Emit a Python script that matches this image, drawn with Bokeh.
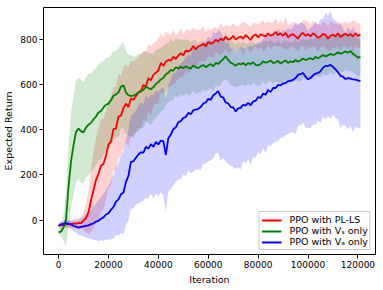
from bokeh.plotting import figure
from bokeh.models import Range1d, Legend, LegendItem
from bokeh.embed import file_html
from bokeh.resources import INLINE

# ---------------- data ----------------
iterations = [i * 1000 for i in range(122)]

x_tick_values = [0, 20000, 40000, 60000, 80000, 100000, 120000]
x_tick_labels = ["0", "20000", "40000", "60000", "80000", "100000", "120000"]
y_tick_values = [0, 200, 400, 600, 800]
y_tick_labels = ["0", "200", "400", "600", "800"]

series_labels = ["PPO with PL-LS", "PPO with V\u209b only", "PPO with V\u2090 only"]
series_colors = ["#ff0000", "#008000", "#0000ff"]

pl_ls_mean = [
    -25, -20, -23, -19, -17, -21, -14, -16, -12, -13,
    -2, 8, 35, 88, 132, 178, 205, 240, 248, 285,
    335, 348, 402, 405, 458, 462, 495, 515, 500, 538,
    532, 548, 565, 568, 598, 590, 628, 618, 642, 652,
    662, 695, 682, 700, 708, 705, 722, 712, 728, 738,
    728, 750, 745, 752, 770, 755, 768, 772, 780, 768,
    788, 780, 785, 798, 790, 802, 795, 810, 798, 802,
    815, 798, 806, 812, 802, 818, 808, 796, 815, 820,
    808, 822, 816, 812, 826, 815, 820, 832, 818, 826,
    815, 828, 808, 818, 822, 812, 802, 820, 828, 815,
    822, 812, 826, 818, 806, 812, 824, 818, 802, 815,
    820, 812, 826, 810, 818, 824, 815, 822, 812, 826,
    814, 820,
]
pl_ls_std = [
    12, 14, 15, 13, 17, 16, 19, 22, 20, 26,
    38, 64, 98, 140, 168, 185, 198, 205, 200, 196,
    194, 198, 186, 184, 188, 176, 180, 172, 176, 166,
    170, 162, 158, 166, 150, 155, 148, 152, 140, 138,
    142, 130, 126, 134, 118, 112, 120, 104, 100, 108,
    94, 90, 98, 84, 80, 86, 74, 70, 76, 64,
    60, 58, 66, 54, 56, 72, 55, 52, 60, 57,
    54, 62, 50, 56, 75, 54, 52, 58, 55, 50,
    57, 53, 68, 55, 52, 58, 54, 60, 50, 56,
    53, 72, 55, 50, 57, 54, 60, 52, 56, 70,
    54, 52, 57, 55, 62, 50, 54, 58, 53, 66,
    52, 56, 54, 60, 51, 55, 58, 52, 70, 54,
    55, 52,
]

vs_mean = [
    -55, -50, -32, 5, 150, 262, 332, 390, 405, 392,
    388, 410, 422, 430, 446, 458, 476, 482, 498, 510,
    515, 530, 550, 556, 565, 590, 596, 565, 552, 548,
    550, 556, 565, 572, 575, 590, 584, 578, 588, 602,
    610, 622, 628, 645, 652, 664, 660, 676, 670, 678,
    672, 680, 674, 670, 684, 676, 672, 680, 686, 676,
    684, 690, 680, 695, 690, 702, 712, 725, 708, 696,
    690, 682, 692, 688, 695, 684, 694, 690, 698, 686,
    684, 690, 702, 696, 700, 706, 694, 698, 704, 692,
    700, 706, 695, 702, 698, 708, 700, 706, 715, 708,
    712, 716, 710, 722, 716, 722, 730, 724, 728, 735,
    730, 734, 742, 736, 740, 746, 740, 748, 735, 728,
    718, 722,
]
vs_std = [
    10, 22, 60, 122, 180, 210, 218, 226, 224, 228,
    225, 220, 226, 216, 218, 214, 212, 216, 206, 208,
    202, 198, 200, 192, 196, 186, 190, 182, 178, 184,
    172, 168, 174, 162, 166, 158, 154, 160, 148, 150,
    146, 140, 144, 136, 132, 138, 128, 126, 130, 122,
    124, 118, 122, 116, 112, 120, 110, 114, 108, 106,
    108, 104, 110, 102, 100, 106, 98, 102, 96, 100,
    98, 94, 100, 92, 96, 94, 90, 98, 92, 88,
    94, 90, 88, 96, 86, 92, 90, 86, 94, 88,
    90, 86, 92, 84, 88, 90, 85, 92, 86, 88,
    84, 90, 86, 88, 82, 90, 86, 84, 88, 82,
    86, 84, 88, 82, 86, 80, 84, 86, 82, 80,
    84, 80,
]

va_mean = [
    -25, -19, -17, -13, -17, -18, -26, -29, -33, -30,
    -28, -25, -23, -18, -14, -7, -3, 6, 12, 25,
    30, 46, 58, 82, 92, 114, 122, 168, 196, 258,
    260, 276, 290, 300, 298, 324, 316, 336, 324, 346,
    334, 352, 348, 288, 362, 378, 402, 410, 432, 438,
    452, 456, 474, 468, 486, 488, 492, 500, 516, 520,
    536, 532, 552, 560, 570, 546, 542, 520, 516, 500,
    498, 480, 494, 496, 510, 506, 518, 508, 524, 528,
    544, 540, 560, 554, 576, 566, 584, 584, 598, 596,
    604, 606, 614, 616, 620, 628, 642, 646, 650, 634,
    622, 628, 640, 648, 650, 658, 674, 682, 682, 686,
    678, 666, 654, 638, 634, 624, 628, 626, 622, 621,
    618, 614,
]
va_std = [
    10, 12, 13, 15, 16, 19, 22, 27, 33, 38,
    44, 52, 58, 64, 74, 80, 90, 96, 104, 110,
    118, 130, 140, 148, 162, 170, 184, 190, 200, 206,
    210, 206, 216, 220, 212, 226, 222, 218, 230, 226,
    232, 228, 238, 250, 236, 242, 248, 240, 252, 256,
    250, 262, 256, 260, 272, 264, 268, 278, 266, 272,
    276, 268, 280, 264, 272, 286, 266, 262, 270, 258,
    264, 254, 260, 272, 250, 256, 248, 262, 246, 252,
    244, 250, 240, 258, 246, 238, 244, 236, 250, 232,
    238, 230, 236, 226, 234, 248, 224, 228, 220, 226,
    214, 222, 218, 228, 212, 230, 216, 236, 222, 240,
    212, 218, 208, 230, 214, 206, 226, 210, 232, 208,
    212, 204,
]

means = [pl_ls_mean, vs_mean, va_mean]
stds = [pl_ls_std, vs_std, va_std]

# ---------------- figure ----------------
FONT = "DejaVu Sans"
p = figure(
    frame_width=332, frame_height=247,
    x_range=Range1d(-6050, 127050), y_range=Range1d(-152, 940),
    output_backend="svg", toolbar_location=None,
    min_border_top=7, min_border_right=8, min_border_left=43, min_border_bottom=0,
)
p.background_fill_color = "white"
p.border_fill_color = "white"
p.outline_line_color = "black"
p.outline_line_width = 1
p.outline_line_alpha = 1
p.xgrid.visible = False
p.ygrid.visible = False

for m, s, c in zip(means, stds, series_colors):
    lo = [a - b for a, b in zip(m, s)]
    hi = [a + b for a, b in zip(m, s)]
    p.varea(x=iterations, y1=lo, y2=hi, fill_color=c, fill_alpha=0.18)

items = []
for m, c, lab in zip(means, series_colors, series_labels):
    r = p.line(x=iterations, y=m, line_color=c, line_width=1.8)
    items.append(LegendItem(label=lab, renderers=[r]))

p.xaxis.ticker = x_tick_values
p.xaxis.major_label_overrides = dict(zip(x_tick_values, x_tick_labels))
p.yaxis.ticker = y_tick_values
p.yaxis.major_label_overrides = dict(zip(y_tick_values, y_tick_labels))
p.xaxis.axis_label = "Iteration"
p.yaxis.axis_label = "Expected Return"

for ax in (p.xaxis[0], p.yaxis[0]):
    ax.axis_line_color = None
    ax.major_tick_out = 4
    ax.major_tick_in = 0
    ax.major_tick_line_color = "black"
    ax.minor_tick_line_color = None
    ax.major_label_text_font = FONT
    ax.major_label_text_font_size = "9px"
    ax.major_label_text_color = "black"
    ax.major_label_standoff = 2
    ax.axis_label_text_font = FONT
    ax.axis_label_text_font_size = "9.5px"
    ax.axis_label_text_font_style = "normal"
    ax.axis_label_text_color = "black"
    ax.axis_label_standoff = 3

legend = Legend(
    items=items, location="bottom_right",
    label_text_font=FONT, label_text_font_size="9.5px", label_text_color="black",
    border_line_color="#cccccc", border_line_width=1, border_line_alpha=1,
    background_fill_color="white", background_fill_alpha=0.8,
    glyph_width=20, glyph_height=10, label_height=10, label_standoff=8,
    spacing=-1, padding=2, margin=4,
)
p.add_layout(legend, "center")

open("out.html", "w").write(file_html(p, INLINE))
